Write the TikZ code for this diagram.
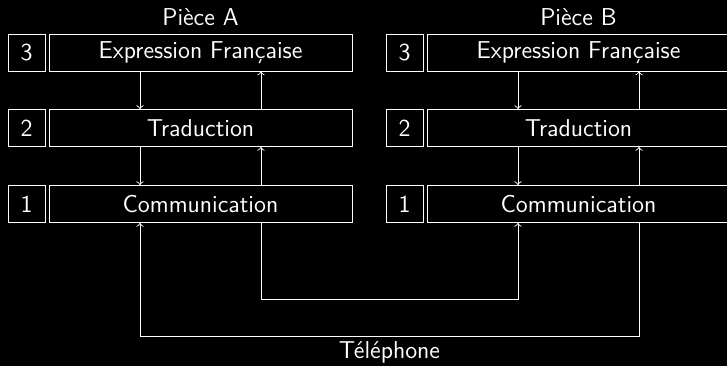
\documentclass[tikz,border=0pt]{standalone}
\begin{document}
\begin{tikzpicture}[x=0.5pt,y=-0.5pt,
  every node/.style={text=white,font=\sffamily\fontsize{12.2}{14}\selectfont},
  numbox/.style={draw=white,line width=0.45pt,minimum width=18.5pt,minimum height=18.5pt,inner sep=0pt},
  mainbox/.style={draw=white,line width=0.45pt,minimum width=151.5pt,minimum height=18.5pt,inner sep=0pt},
  link/.style={draw=white,line width=0.45pt,->}]
\fill[black] (0,0) rectangle (727,366);
\useasboundingbox (0,0) rectangle (727,366);
% Piece A
\node (ta) at (200.5,17) {Pièce A};
\node[numbox] (na3) at (26.5,52.5) {3};
\node[numbox] (na2) at (26.5,128) {2};
\node[numbox] (na1) at (26.5,204) {1};
\node[mainbox] (a3) at (200.5,52.5) {Expression Française};
\node[mainbox] (a2) at (200.5,128) {Traduction};
\node[mainbox] (a1) at (200.5,204) {Communication};
% Piece B
\node (tb) at (578.5,17) {Pièce B};
\node[numbox] (nb3) at (404.5,52.5) {3};
\node[numbox] (nb2) at (404.5,128) {2};
\node[numbox] (nb1) at (404.5,204) {1};
\node[mainbox] (b3) at (578.5,52.5) {Expression Française};
\node[mainbox] (b2) at (578.5,128) {Traduction};
\node[mainbox] (b1) at (578.5,204) {Communication};
% vertical arrows
\foreach \p in {a,b}{
  \draw[link] ([xshift=-30.25pt]\p3.south) -- ([xshift=-30.25pt]\p2.north);
  \draw[link] ([xshift=-30.25pt]\p2.south) -- ([xshift=-30.25pt]\p1.north);
  \draw[link] ([xshift=30.25pt]\p1.north) -- ([xshift=30.25pt]\p2.south);
  \draw[link] ([xshift=30.25pt]\p2.north) -- ([xshift=30.25pt]\p3.south);
}
% telephone links
\draw[link] ([xshift=30.25pt]a1.south) -- ++(0,-38pt) -| ([xshift=-30.25pt]b1.south);
\draw[link] ([xshift=30.25pt]b1.south) -- ++(0,-56.75pt) -| ([xshift=-30.25pt]a1.south);
\node (tel) at (389.5,352) {Téléphone};
\end{tikzpicture}
\end{document}
